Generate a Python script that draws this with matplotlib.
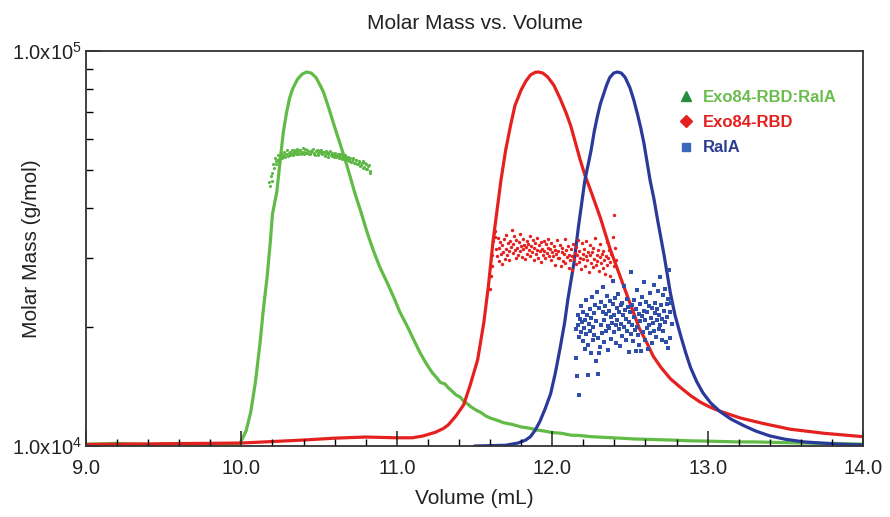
import numpy as np
import matplotlib
matplotlib.use("Agg")
import matplotlib.pyplot as plt
from matplotlib.lines import Line2D
from matplotlib.ticker import FixedLocator, LogLocator, NullFormatter

plt.rcParams["font.family"] = ["Liberation Sans", "DejaVu Sans"]
plt.rcParams["mathtext.fontset"] = "custom"
plt.rcParams["mathtext.rm"] = "Liberation Sans"

# detector traces (normalised, drawn on a hidden linear axis)
green_vol = [9.0, 9.2, 9.4, 9.6, 9.8, 9.99, 10.03, 10.06, 10.09, 10.12, 10.14, 10.165, 10.185,
             10.20, 10.228, 10.25, 10.27, 10.29, 10.31, 10.33, 10.36, 10.39, 10.42, 10.45, 10.48,
             10.51, 10.53, 10.565, 10.60, 10.635, 10.668, 10.70, 10.73, 10.77, 10.81, 10.85,
             10.89, 10.94, 10.98, 11.02, 11.07, 11.11, 11.15, 11.19, 11.23, 11.26, 11.28, 11.31,
             11.33, 11.36, 11.38, 11.41, 11.43, 11.46, 11.48, 11.51, 11.54, 11.57, 11.60, 11.65,
             11.69, 11.74, 11.80, 11.85, 11.90, 11.95, 12.0, 12.06, 12.12, 12.18, 12.25, 12.34,
             12.44, 12.52, 12.6, 12.68, 12.76, 12.88, 13.0, 13.1, 13.19, 13.3, 13.4, 13.5,
             13.62, 13.7, 13.8, 13.9, 14.0]
green_sig = [0.005, 0.007, 0.004, 0.007, 0.005, 0.006, 0.04, 0.09, 0.17, 0.275, 0.36, 0.45, 0.54,
             0.62, 0.68, 0.765, 0.84, 0.89, 0.93, 0.955, 0.98, 0.994, 1.0, 0.997, 0.985,
             0.962, 0.944, 0.90, 0.853, 0.808, 0.765, 0.72, 0.676, 0.625, 0.57, 0.522,
             0.479, 0.435, 0.398, 0.358, 0.318, 0.283, 0.249, 0.22, 0.195, 0.181, 0.170, 0.166,
             0.156, 0.145, 0.137, 0.130, 0.120, 0.111, 0.104, 0.096, 0.090, 0.081, 0.075, 0.068,
             0.062, 0.058, 0.051, 0.048, 0.043, 0.040, 0.036, 0.034, 0.029, 0.028, 0.025, 0.023,
             0.021, 0.019, 0.018, 0.017, 0.016, 0.014, 0.013, 0.012, 0.011, 0.011, 0.010, 0.009,
             0.008, 0.007, 0.007, 0.006, 0.005]

red_vol = [9.0, 10.0, 10.2, 10.4, 10.6, 10.8, 11.0, 11.1, 11.17, 11.25, 11.30, 11.33, 11.38,
           11.43, 11.47, 11.52, 11.56, 11.59, 11.62, 11.645, 11.67, 11.70, 11.73, 11.76, 11.80,
           11.83, 11.86, 11.89, 11.91, 11.94, 11.97, 12.01, 12.05, 12.09, 12.12, 12.15, 12.18,
           12.21, 12.25, 12.31, 12.37, 12.44, 12.48, 12.52, 12.56, 12.61, 12.65, 12.70, 12.76,
           12.83, 12.89, 12.95, 13.01, 13.08, 13.21, 13.36, 13.53, 13.75, 14.0]
red_sig = [0.004, 0.008, 0.012, 0.016, 0.021, 0.024, 0.022, 0.022, 0.027, 0.037, 0.047, 0.056, 0.08,
           0.11, 0.16, 0.23, 0.33, 0.43, 0.55, 0.63, 0.71, 0.79, 0.853, 0.91, 0.952,
           0.975, 0.992, 0.999, 1.0, 0.997, 0.987, 0.965, 0.93, 0.89, 0.855, 0.81, 0.765,
           0.725, 0.68, 0.61, 0.53, 0.45, 0.405, 0.36, 0.315, 0.275, 0.24, 0.21, 0.18,
           0.155, 0.135, 0.118, 0.105, 0.093, 0.075, 0.060, 0.045, 0.034, 0.025]

blue_vol = [11.5, 11.70, 11.78, 11.83, 11.86, 11.89, 11.92, 11.955, 11.99, 12.02, 12.05, 12.08,
            12.10, 12.12, 12.14, 12.17, 12.19, 12.21, 12.23, 12.25, 12.27, 12.29, 12.31, 12.33,
            12.35, 12.37, 12.395, 12.42, 12.445, 12.47, 12.50, 12.525, 12.55, 12.57, 12.59,
            12.61, 12.63, 12.655, 12.68, 12.70, 12.72, 12.74, 12.76, 12.79, 12.83, 12.86, 12.89,
            12.93, 12.97, 13.02, 13.08, 13.15, 13.23, 13.31, 13.40, 13.50, 13.62, 13.84, 14.0]
blue_sig = [0.0, 0.002, 0.008, 0.016, 0.025, 0.042, 0.065, 0.10, 0.14, 0.195, 0.26, 0.33,
            0.39, 0.44, 0.49, 0.59, 0.65, 0.71, 0.75, 0.79, 0.84, 0.88, 0.915, 0.94,
            0.965, 0.985, 0.997, 1.0, 0.997, 0.985, 0.958, 0.925, 0.885, 0.85, 0.81,
            0.76, 0.71, 0.66, 0.60, 0.555, 0.51, 0.46, 0.41, 0.35, 0.29, 0.248, 0.21,
            0.172, 0.142, 0.115, 0.092, 0.072, 0.055, 0.040, 0.027, 0.018, 0.011, 0.005, 0.003]

# molar mass points (x in mL, mass in kg/mol)
green_mx = [10.18, 10.185, 10.19, 10.195, 10.20, 10.205, 10.21, 10.215, 10.22, 10.225, 10.23,
            10.235, 10.24, 10.245, 10.25, 10.255, 10.26, 10.265, 10.27, 10.275, 10.28, 10.285,
            10.29, 10.295, 10.30, 10.305, 10.31, 10.315, 10.32, 10.325, 10.33, 10.335, 10.34,
            10.345, 10.35, 10.355, 10.36, 10.365, 10.37, 10.375, 10.38, 10.385, 10.39, 10.395,
            10.40, 10.405, 10.41, 10.415, 10.42, 10.425, 10.43, 10.435, 10.44, 10.445, 10.45,
            10.455, 10.46, 10.465, 10.47, 10.475, 10.48, 10.485, 10.49, 10.495, 10.50, 10.505,
            10.51, 10.515, 10.52, 10.525, 10.53, 10.535, 10.54, 10.545, 10.55, 10.555, 10.56,
            10.565, 10.57, 10.575, 10.58, 10.585, 10.59, 10.595, 10.60, 10.605, 10.61, 10.615,
            10.62, 10.625, 10.63, 10.635, 10.64, 10.645, 10.65, 10.655, 10.66, 10.665, 10.67,
            10.675, 10.68, 10.685, 10.69, 10.695, 10.70, 10.705, 10.71, 10.715, 10.72, 10.725,
            10.73, 10.735, 10.74, 10.745, 10.75, 10.755, 10.76, 10.765, 10.77, 10.775, 10.78,
            10.785, 10.79, 10.795, 10.80, 10.805, 10.81, 10.815, 10.82, 10.825, 10.83]
green_mm = [46.5, 45.6, 48.2, 49.0, 47.0, 51.6, 50.5, 53.6, 52.6, 51.8, 53.1,
            54.4, 52.4, 53.2, 54.0, 55.1, 53.5, 54.2, 54.6, 55.6, 53.9, 54.8,
            55.0, 56.1, 54.3, 55.2, 55.6, 54.5, 54.8, 56.3, 55.3, 54.6, 56.0,
            55.4, 54.9, 56.5, 55.7, 54.8, 55.1, 56.0, 56.2, 55.0, 55.4, 56.7,
            54.8, 55.6, 56.4, 55.3, 55.2, 56.1, 55.9, 54.9, 54.7, 55.8, 55.5,
            56.3, 56.6, 55.2, 55.0, 54.5, 55.8, 56.0, 54.6, 55.3, 55.4, 56.2,
            56.1, 55.1, 54.9, 55.5, 55.6, 54.3, 54.4, 55.9, 55.2, 54.0, 54.7,
            55.4, 55.8, 54.6, 54.2, 55.1, 55.0, 53.9, 54.5, 55.2, 53.8, 54.3,
            54.9, 53.5, 54.1, 54.7, 53.6, 53.2, 54.4, 53.9, 53.3, 54.6, 54.0,
            52.9, 53.4, 53.8, 52.8, 53.1, 53.7, 52.4, 52.6, 53.5, 53.3, 52.2,
            52.1, 53.0, 52.9, 51.7, 51.8, 52.4, 52.6, 51.2, 51.5, 52.0, 52.8,
            50.6, 50.9, 51.9, 51.8, 50.4, 50.2, 51.0, 51.3, 49.2, 49.6]

red_mx = [11.600, 11.605, 11.610, 11.615, 11.620, 11.625, 11.630, 11.635, 11.640, 11.645,
          11.650, 11.655, 11.660, 11.665, 11.670, 11.675, 11.680, 11.685, 11.690, 11.695,
          11.700, 11.705, 11.710, 11.715, 11.720, 11.725, 11.730, 11.735, 11.740, 11.745,
          11.750, 11.755, 11.760, 11.765, 11.770, 11.775, 11.780, 11.785, 11.790, 11.795,
          11.800, 11.805, 11.810, 11.815, 11.820, 11.825, 11.830, 11.835, 11.840, 11.845,
          11.850, 11.855, 11.860, 11.865, 11.870, 11.875, 11.880, 11.885, 11.890, 11.895,
          11.900, 11.905, 11.910, 11.915, 11.920, 11.925, 11.930, 11.935, 11.940, 11.945,
          11.950, 11.955, 11.960, 11.965, 11.970, 11.975, 11.980, 11.985, 11.990, 11.995,
          12.000, 12.005, 12.010, 12.015, 12.020, 12.025, 12.030, 12.035, 12.040, 12.045,
          12.050, 12.055, 12.060, 12.065, 12.070, 12.075, 12.080, 12.085, 12.090, 12.095,
          12.100, 12.105, 12.110, 12.115, 12.120, 12.125, 12.130, 12.135, 12.140, 12.145,
          12.150, 12.155, 12.160, 12.165, 12.170, 12.175, 12.180, 12.185, 12.190, 12.195,
          12.200, 12.205, 12.210, 12.215, 12.220, 12.225, 12.230, 12.235, 12.240, 12.245,
          12.250, 12.255, 12.260, 12.265, 12.270, 12.275, 12.280, 12.285, 12.290, 12.295,
          12.300, 12.305, 12.310, 12.315, 12.320, 12.325, 12.330, 12.335, 12.340, 12.345,
          12.350, 12.355, 12.360, 12.365, 12.370, 12.375, 12.380, 12.385, 12.390, 12.395,
          12.400, 12.405, 12.410]
red_mm = [25.0, 27.0, 28.5, 30.5, 33.0, 34.6, 35.0, 33.8, 31.5, 30.2,
          33.6, 29.4, 31.8, 32.9, 30.6, 28.9, 32.2, 31.0, 33.4, 29.8,
          31.6, 34.2, 30.4, 32.6, 31.2, 29.6, 33.0, 31.9, 35.2, 30.8,
          32.4, 34.0, 31.4, 29.9, 33.2, 31.7, 30.5, 32.8, 34.4, 31.1,
          32.0, 30.1, 33.5, 31.5, 32.3, 29.7, 31.9, 33.1, 30.7, 32.5,
          31.3, 34.1, 30.3, 32.1, 31.0, 33.3, 29.5, 31.8, 32.7, 30.6,
          31.4, 33.6, 30.0, 32.2, 31.1, 29.3, 32.9, 31.6, 30.4, 33.0,
          31.2, 29.9, 32.4, 30.8, 31.7, 33.4, 30.2, 31.5, 32.6, 29.6,
          31.0, 30.3, 32.0, 28.8, 31.4, 30.6, 33.2, 29.9, 31.1, 30.0,
          32.3, 28.5, 30.9, 31.8, 29.4, 30.7, 33.5, 29.0, 31.3, 30.1,
          32.1, 28.3, 30.5, 29.6, 31.6, 30.2, 27.9, 32.4, 29.8, 30.8,
          31.9, 28.9, 30.4, 33.3, 29.3, 31.2, 30.0, 28.1, 32.7, 29.7,
          30.6, 31.5, 28.6, 30.2, 33.0, 29.5, 31.0, 27.6, 30.4, 32.2,
          29.1, 30.9, 28.4, 31.7, 29.8, 33.6, 28.8, 30.5, 29.4, 31.4,
          27.8, 30.1, 32.5, 29.0, 30.7, 28.2, 31.1, 29.6, 27.2, 30.3,
          32.8, 28.7, 29.9, 31.3, 27.0, 29.3, 30.6, 26.2, 33.9, 28.5,
          38.4, 31.8, 29.5]

blue_mx = [12.150, 12.155, 12.160, 12.163, 12.168, 12.172, 12.175, 12.180, 12.184, 12.188,
           12.192, 12.196, 12.200, 12.204, 12.208, 12.212, 12.216, 12.220, 12.224, 12.228,
           12.232, 12.236, 12.240, 12.244, 12.248, 12.252, 12.256, 12.260, 12.264, 12.268,
           12.272, 12.276, 12.280, 12.284, 12.288, 12.292, 12.296, 12.300, 12.304, 12.308,
           12.312, 12.316, 12.320, 12.324, 12.328, 12.332, 12.336, 12.340, 12.344, 12.348,
           12.352, 12.356, 12.360, 12.364, 12.368, 12.372, 12.376, 12.380, 12.384, 12.388,
           12.392, 12.396, 12.400, 12.404, 12.408, 12.412, 12.416, 12.420, 12.424, 12.428,
           12.432, 12.436, 12.440, 12.444, 12.448, 12.452, 12.456, 12.460, 12.464, 12.468,
           12.472, 12.476, 12.480, 12.484, 12.488, 12.492, 12.496, 12.500, 12.504, 12.508,
           12.512, 12.516, 12.520, 12.524, 12.528, 12.532, 12.536, 12.540, 12.544, 12.548,
           12.552, 12.556, 12.560, 12.564, 12.568, 12.572, 12.576, 12.580, 12.584, 12.588,
           12.592, 12.596, 12.600, 12.604, 12.608, 12.612, 12.616, 12.620, 12.624, 12.628,
           12.632, 12.636, 12.640, 12.644, 12.648, 12.652, 12.656, 12.660, 12.664, 12.668,
           12.672, 12.676, 12.680, 12.684, 12.688, 12.692, 12.696, 12.700, 12.704, 12.708,
           12.712, 12.716, 12.720, 12.724, 12.728, 12.732, 12.736, 12.740, 12.744, 12.748,
           12.752, 12.756, 12.760, 12.764, 12.768]
blue_mm = [16.7, 19.8, 15.0, 21.5, 20.2, 13.5, 18.9, 21.0, 19.4, 22.6,
           20.6, 18.4, 21.8, 19.9, 17.6, 20.9, 23.4, 19.2, 21.4, 18.0,
           15.1, 20.4, 22.2, 19.6, 17.2, 21.1, 23.9, 20.0, 18.6, 21.7,
           19.1, 22.8, 16.4, 20.7, 24.6, 18.8, 15.2, 17.2, 22.4, 17.8,
           20.3, 23.1, 19.3, 21.9, 25.2, 18.3, 20.8, 22.6, 19.5, 21.6,
           24.0, 20.1, 17.5, 22.0, 19.9, 23.3, 21.2, 18.7, 20.5, 22.9,
           26.2, 19.4, 21.5, 23.7, 20.2, 18.2, 22.3, 20.9, 24.3, 19.8,
           21.8, 17.9, 22.7, 20.4, 23.0, 19.0, 21.4, 25.4, 20.0, 22.1,
           18.5, 21.0, 23.6, 19.6, 22.5, 20.6, 17.3, 21.9, 27.6, 19.2,
           22.8, 20.3, 18.4, 23.4, 21.2, 19.7, 17.4, 22.2, 20.0, 24.8,
           19.1, 21.6, 18.0, 22.9, 20.7, 17.4, 23.8, 21.3, 19.4, 22.0,
           26.0, 18.6, 20.8, 23.2, 19.9, 21.8, 17.6, 22.6, 20.2, 24.4,
           19.3, 21.1, 18.2, 22.4, 20.5, 25.6, 19.6, 21.7, 23.0, 18.9,
           20.9, 22.2, 24.7, 19.8, 21.4, 26.8, 20.3, 22.7, 18.6, 21.0,
           24.1, 19.5, 22.0, 20.6, 25.0, 18.3, 22.9, 21.2, 23.6, 17.7,
           27.9, 21.8, 18.8, 23.0, 20.4]

labels = ["Exo84-RBD:RalA", "Exo84-RBD", "RalA"]
line_colors = ["#62bb47", "#e5211f", "#2a3a9b"]
dot_colors = ["#5cb843", "#e5211f", "#2f4fab"]
legend_marker_colors = ["#2a8c3c", "#e5211f", "#3a68bd"]
legend_text_colors = ["#6abd4e", "#e5211f", "#2d3c93"]

fig = plt.figure(figsize=(8.9, 5.17), dpi=100)
ax = fig.add_axes([0.0966, 0.1373, 0.8731, 0.7641])
ax2 = ax.twinx()

# traces underneath the molar mass points
for vol, sig, c in [(green_vol, green_sig, line_colors[0]),
                    (red_vol, red_sig, line_colors[1]),
                    (blue_vol, blue_sig, line_colors[2])]:
    ax2.plot(vol, sig, color=c, lw=2.3, solid_joinstyle="round", solid_capstyle="round")
ax2.set_ylim(0, 395 / 374)
ax2.set_yticks([])
for s in ax2.spines.values():
    s.set_visible(False)

ax.set_zorder(ax2.get_zorder() + 1)
ax.patch.set_visible(False)

ax.scatter(green_mx, np.array(green_mm) * 1000, s=5, marker="o", color=dot_colors[0], linewidths=0)
ax.scatter(red_mx, np.array(red_mm) * 1000, s=6, marker="o", color=dot_colors[1], linewidths=0)
ax.scatter(blue_mx, np.array(blue_mm) * 1000, s=11, marker="s", color=dot_colors[2], linewidths=0)

ax.set_yscale("log")
ax.set_xlim(9.0, 14.0)
ax.set_ylim(1e4, 1e5)

ax.xaxis.set_major_locator(FixedLocator([9, 10, 11, 12, 13, 14]))
ax.xaxis.set_minor_locator(FixedLocator([9 + 0.2 * i for i in range(26)]))
ax.set_xticklabels(["9.0", "10.0", "11.0", "12.0", "13.0", "14.0"])
ax.yaxis.set_major_locator(FixedLocator([1e4, 1e5]))
ax.set_yticklabels([r"1.0x10$^4$", r"1.0x10$^5$"])
ax.yaxis.set_minor_locator(LogLocator(base=10, subs=np.arange(2, 10)))
ax.yaxis.set_minor_formatter(NullFormatter())

ax.tick_params(axis="both", which="major", direction="in", length=11, width=1.1,
               labelsize=14.5, colors="#222222", pad=3)
ax.tick_params(axis="both", which="minor", direction="in", length=5, width=1.0)
ax.tick_params(axis="x", which="major", pad=9)
for s in ax.spines.values():
    s.set_linewidth(1.3)
    s.set_color("#333333")

ax.set_title("Molar Mass vs. Volume", fontsize=15, pad=16, color="#222222")
ax.set_xlabel("Volume (mL)", fontsize=15, color="#222222", labelpad=8)
ax.set_ylabel("Molar Mass (g/mol)", fontsize=15, color="#222222")
ax.yaxis.set_label_coords(-0.058, 0.5)

handles = [Line2D([], [], ls="none", marker=m, color=c, markersize=ms)
           for m, c, ms in zip(["^", "D", "s"], legend_marker_colors, [7, 6, 6])]
leg = ax.legend(handles, labels, loc="upper left", bbox_to_anchor=(0.74, 0.94),
                frameon=False, handletextpad=0.4, labelspacing=0.62,
                prop={"size": 12, "weight": "bold"}, handlelength=1.2)
for t, c in zip(leg.get_texts(), legend_text_colors):
    t.set_color(c)

fig.savefig("out.png", dpi=100)
